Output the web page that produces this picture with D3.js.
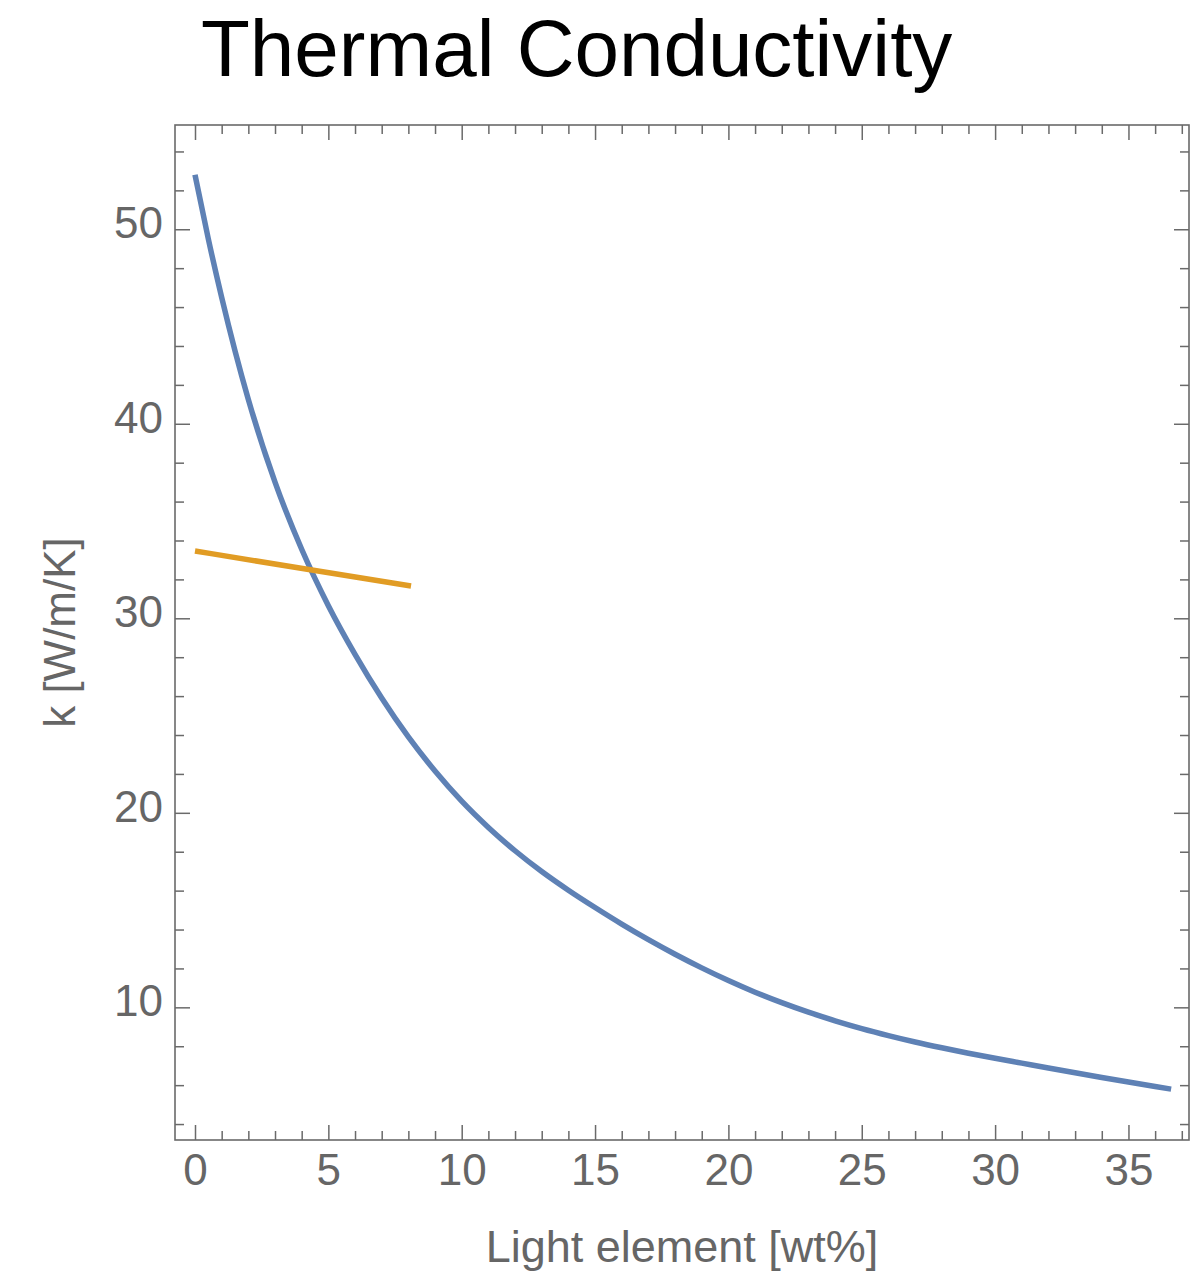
<!DOCTYPE html>
<html>
<head>
<meta charset="utf-8">
<script src="https://d3js.org/d3.v7.min.js"></script>
<style>
  body { margin: 0; background: #fff; }
  text { font-family: "Liberation Sans", Arial, Helvetica, sans-serif; }
</style>
</head>
<body>
<div id="chart"></div>
<script>
// data
var lightElement = [0, 0.5, 1, 2, 3, 4, 5, 6, 7, 8, 9, 10, 11, 12, 13, 14, 15, 16, 17, 18, 19,
  20, 21, 22, 23, 24, 25, 26, 27, 28, 29, 30, 31, 32, 33, 34, 35, 36, 36.6];
var conductivity = [52.8, 49.5, 46.5, 41.25, 37.0, 33.55, 30.65, 28.15, 25.9, 23.9, 22.15, 20.6,
  19.25, 18.05, 16.98, 16.02, 15.13, 14.28, 13.48, 12.73, 12.03, 11.38, 10.78, 10.24, 9.75,
  9.31, 8.91, 8.55, 8.22, 7.92, 7.64, 7.38, 7.13, 6.88, 6.635, 6.395, 6.16, 5.93, 5.795];
var refX = [0, 4.44, 8.1];
var refK = [33.46, 32.47, 31.66];
var xMajorTicks = [0, 5, 10, 15, 20, 25, 30, 35];
var yMajorTicks = [10, 20, 30, 40, 50];

var svgWidth = 1194;
var svgHeight = 1271;

var margin = {
  top: 125,
  right: 5,
  bottom: 131,
  left: 175
};

var width = svgWidth - margin.left - margin.right;
var height = svgHeight - margin.top - margin.bottom;

var svg = d3.select("#chart")
  .append("svg")
  .attr("width", svgWidth)
  .attr("height", svgHeight);

var chartGroup = svg.append("g")
  .attr("transform", `translate(${margin.left}, ${margin.top})`);

var xScale = d3.scaleLinear()
  .domain([-0.75, 37.27])
  .range([0, width]);

var yScale = d3.scaleLinear()
  .domain([3.18, 55.36])
  .range([height, 0]);

var frameColor = "#6a6a6a";
var xMinor = d3.range(0, 38, 1).filter(d => d % 5 !== 0);
var yMinor = d3.range(4, 56, 2).filter(d => d % 10 !== 0);

// helper to style the axis groups
function styleAxis(g) {
  g.select(".domain").remove();
  g.selectAll("line").attr("stroke", frameColor).attr("stroke-width", 1.5);
  g.selectAll("text")
    .attr("fill", "#666")
    .style("font-size", "44px");
}

// bottom axis with labels
chartGroup.append("g")
  .attr("transform", `translate(0, ${height})`)
  .call(d3.axisBottom(xScale).tickValues(xMajorTicks).tickSize(-15).tickPadding(14))
  .call(styleAxis);
chartGroup.append("g")
  .attr("transform", `translate(0, ${height})`)
  .call(d3.axisBottom(xScale).tickValues(xMinor).tickSize(-9).tickFormat(""))
  .call(styleAxis);

// top axis, no labels
chartGroup.append("g")
  .call(d3.axisTop(xScale).tickValues(xMajorTicks).tickSize(-15).tickFormat(""))
  .call(styleAxis);
chartGroup.append("g")
  .call(d3.axisTop(xScale).tickValues(xMinor).tickSize(-9).tickFormat(""))
  .call(styleAxis);

// left axis with labels
chartGroup.append("g")
  .call(d3.axisLeft(yScale).tickValues(yMajorTicks).tickSize(-15).tickPadding(12))
  .call(styleAxis)
  .selectAll("text")
  .attr("dy", "0.19em");
chartGroup.append("g")
  .call(d3.axisLeft(yScale).tickValues(yMinor).tickSize(-9).tickFormat(""))
  .call(styleAxis);

// right axis, no labels
chartGroup.append("g")
  .attr("transform", `translate(${width}, 0)`)
  .call(d3.axisRight(yScale).tickValues(yMajorTicks).tickSize(-15).tickFormat(""))
  .call(styleAxis);
chartGroup.append("g")
  .attr("transform", `translate(${width}, 0)`)
  .call(d3.axisRight(yScale).tickValues(yMinor).tickSize(-9).tickFormat(""))
  .call(styleAxis);

// frame
chartGroup.append("rect")
  .attr("x", 0)
  .attr("y", 0)
  .attr("width", width)
  .attr("height", height)
  .attr("fill", "none")
  .attr("stroke", frameColor)
  .attr("stroke-width", 1.6);

var line = d3.line()
  .x(d => xScale(d[0]))
  .y(d => yScale(d[1]))
  .curve(d3.curveMonotoneX);

var mainData = lightElement.map((x, i) => [x, conductivity[i]]);
var refData = refX.map((x, i) => [x, refK[i]]);

chartGroup.append("path")
  .datum(mainData)
  .attr("d", line)
  .attr("fill", "none")
  .attr("stroke", "#5e81b5")
  .attr("stroke-width", 5.5);

chartGroup.append("path")
  .datum(refData)
  .attr("d", line)
  .attr("fill", "none")
  .attr("stroke", "#e19c24")
  .attr("stroke-width", 5.5);

// title
svg.append("text")
  .attr("x", 201)
  .attr("y", 76)
  .attr("fill", "#000")
  .style("font-size", "80px")
  .text("Thermal Conductivity");

// axis labels
svg.append("text")
  .attr("x", margin.left + width / 2)
  .attr("y", 1262)
  .attr("text-anchor", "middle")
  .attr("fill", "#666")
  .style("font-size", "45px")
  .text("Light element [wt%]");

svg.append("text")
  .attr("transform", `translate(75, ${margin.top + height / 2}) rotate(-90)`)
  .attr("text-anchor", "middle")
  .attr("fill", "#666")
  .style("font-size", "44px")
  .text("k [W/m/K]");
</script>
</body>
</html>
